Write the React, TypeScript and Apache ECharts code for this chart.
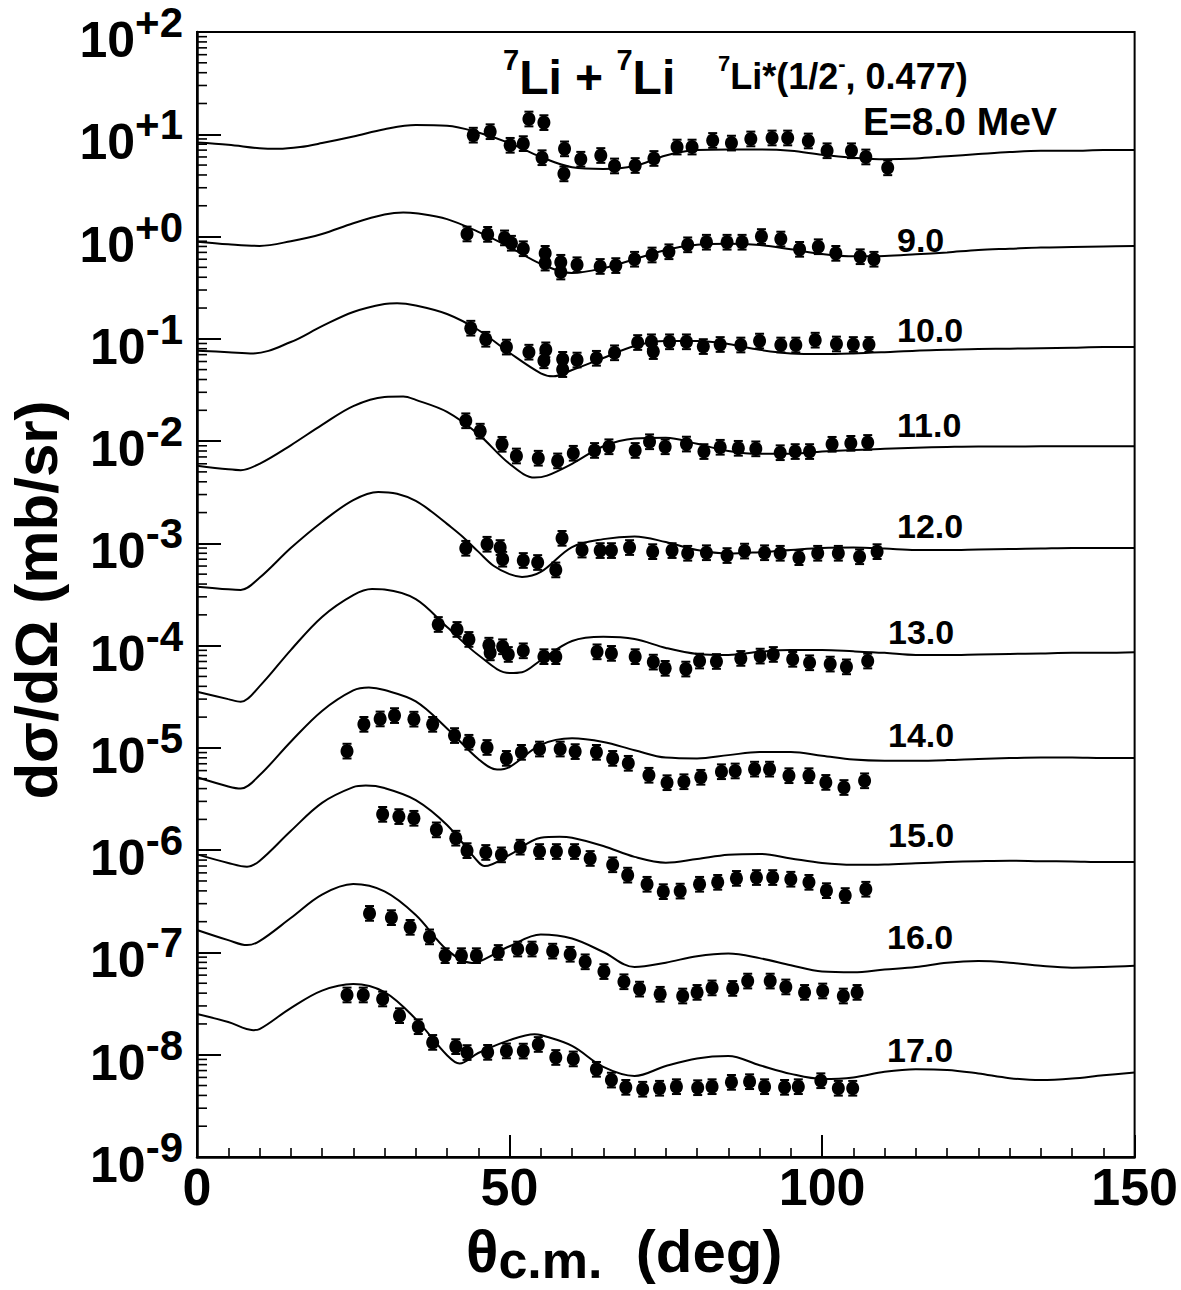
import React, { useEffect, useRef } from "react";
import * as echarts from "echarts";

const FONT = "'Liberation Sans', Arial, Helvetica, sans-serif";

// Beam energies (MeV) and the labels drawn next to each curve
const ENERGIES = [8, 9, 10, 11, 12, 13, 14, 15, 16, 17];
const ENERGY_LABELS = ["E=8.0 MeV", "9.0", "10.0", "11.0", "12.0", "13.0", "14.0", "15.0", "16.0", "17.0"];
// Each angular distribution is multiplied by this factor for display
const SCALE_FACTORS = [1, 1e-1, 1e-2, 1e-3, 1e-4, 1e-5, 1e-6, 1e-7, 1e-8, 1e-9];

// Axis ticks
const X_TICKS = [0, 50, 100, 150];
const Y_MIN = 1e-9;
const Y_MAX = 1e2;
const MINOR_MULTIPLIERS = [2, 3, 4, 5, 6, 7, 8, 9];
const DECADE_EXPONENTS = [-9, -8, -7, -6, -5, -4, -3, -2, -1, 0, 1];

// Relative size of the error bars (multiplicative, log-symmetric)
const ERR_FACTOR = 1.18;

// Theoretical curves: [theta_cm (deg), dsigma/dOmega (mb/sr, unscaled)]
const TH_8 = [[0, 8.3], [5, 7.9], [10, 7.3], [13, 7.2], [16.5, 7.5], [20, 8.2], [25, 9.5], [30, 11.2], [35, 12.3], [40, 12.1], [45, 10.4], [50, 8.2], [55, 6.0], [60, 4.76], [65, 4.58], [70, 4.9], [75, 6.2], [80, 7.0], [85, 7.1], [90, 7.1], [95, 6.9], [100, 6.3], [105, 5.9], [110, 5.7], [115, 5.8], [120, 6.1], [125, 6.4], [130, 6.7], [135, 6.9], [140, 6.9], [145, 7.0], [150, 7.0]];
const TH_9 = [[0, 8.9], [5, 8.4], [10, 8.1], [15, 9.0], [20, 10.6], [25, 13.5], [30, 16.4], [33, 17.2], [35, 16.9], [40, 14.8], [45, 11.1], [50, 7.9], [55, 5.4], [60, 4.4], [65, 4.9], [70, 6.0], [75, 7.4], [80, 8.3], [85, 8.5], [90, 8.25], [95, 7.5], [100, 6.75], [105, 6.4], [110, 6.45], [115, 6.7], [120, 7.0], [125, 7.4], [130, 7.6], [135, 7.8], [140, 7.9], [145, 8.0], [150, 8.1]];
const TH_10 = [[0, 7.65], [5, 7.4], [9, 7.2], [15, 9.3], [20, 13.3], [25, 18.3], [30, 21.9], [32, 22.3], [35, 21.2], [40, 17.5], [45, 12.2], [50, 7.3], [55, 4.6], [57, 4.3], [60, 4.95], [65, 6.5], [70, 8.5], [75, 9.5], [80, 9.5], [85, 8.9], [90, 7.8], [95, 7.2], [100, 7.1], [105, 7.2], [110, 7.4], [115, 7.65], [120, 7.8], [125, 7.95], [130, 8.0], [135, 8.1], [140, 8.2], [145, 8.3], [150, 8.3]];
const TH_11 = [[0, 5.75], [5, 5.3], [7, 5.2], [10, 6.0], [15, 9.1], [20, 14.4], [25, 22.0], [30, 27.0], [33, 27.3], [35, 25.3], [40, 19.3], [45, 11.7], [50, 6.0], [54, 4.4], [56, 4.6], [60, 6.0], [65, 8.9], [70, 10.6], [75, 10.8], [80, 9.4], [85, 8.0], [90, 7.5], [95, 7.5], [100, 7.9], [105, 8.2], [110, 8.4], [115, 8.6], [120, 8.75], [125, 8.85], [130, 8.85], [135, 8.9], [140, 8.9], [145, 8.9], [150, 8.9]];
const TH_12 = [[0, 3.77], [5, 3.55], [7, 3.5], [10, 4.6], [15, 9.0], [20, 16.2], [25, 26.5], [29, 31.8], [32, 30.5], [35, 26.0], [37.5, 20.5], [40, 15.5], [42.5, 11.6], [45, 8.3], [47.5, 6.0], [50, 5.0], [52, 4.7], [55, 5.25], [60, 9.2], [65, 11.0], [70, 11.7], [75, 10.3], [80, 8.6], [85, 7.95], [90, 8.2], [95, 8.6], [100, 9.0], [105, 9.1], [110, 8.9], [115, 8.6], [120, 8.6], [125, 8.7], [130, 8.8], [135, 8.9], [140, 9.0], [145, 9.0], [150, 9.0]];
const TH_13 = [[0, 3.54], [5, 3.0], [7, 2.83], [10, 4.0], [15, 9.05], [20, 19.1], [25, 31.2], [28, 35.8], [30, 35.4], [35, 28.5], [40, 15.2], [45, 8.1], [50, 5.4], [52, 5.5], [55, 7.2], [60, 11.1], [65, 12.2], [70, 11.6], [75, 9.5], [80, 8.3], [85, 8.1], [90, 8.7], [95, 9.05], [100, 9.05], [105, 8.8], [110, 8.5], [115, 8.1], [120, 8.1], [125, 8.2], [130, 8.3], [135, 8.4], [140, 8.5], [145, 8.5], [150, 8.6]];
const TH_14 = [[0, 5.16], [5, 4.2], [7, 4.0], [10, 5.4], [15, 11.5], [20, 23.0], [25, 36.5], [27.5, 39.0], [30, 36.8], [35, 28.5], [40, 15.5], [45, 7.8], [48, 6.15], [50, 6.5], [55, 10.7], [60, 12.4], [65, 11.4], [70, 9.5], [75, 8.05], [80, 7.9], [85, 8.5], [90, 9.1], [95, 9.1], [100, 8.4], [105, 7.7], [110, 7.5], [115, 7.5], [120, 7.6], [125, 7.8], [130, 7.95], [135, 8.05], [140, 8.05], [145, 7.95], [150, 7.95]];
const TH_15 = [[0, 9.1], [5, 7.5], [8, 6.9], [10, 7.85], [15, 15.4], [20, 29.0], [25, 41.3], [27, 42.8], [30, 40.5], [35, 30.9], [40, 17.6], [45, 7.66], [46, 7.0], [50, 9.0], [55, 13.2], [58, 13.5], [60, 13.2], [65, 11.0], [70, 8.6], [75, 7.55], [80, 8.2], [85, 9.0], [90, 9.2], [95, 8.3], [100, 7.5], [105, 7.2], [110, 7.25], [115, 7.45], [120, 7.65], [125, 7.8], [130, 7.9], [135, 7.8], [140, 7.75], [145, 7.65], [150, 7.65]];
const TH_16 = [[0, 16.6], [5, 13.2], [8, 11.8], [10, 12.9], [15, 21.7], [20, 36.8], [25, 46.6], [30, 39.5], [35, 23.2], [40, 10.6], [44, 7.9], [45, 8.05], [50, 11.5], [55, 15.0], [60, 13.7], [65, 10.1], [70, 7.2], [75, 7.95], [80, 9.2], [85, 9.75], [90, 8.8], [95, 7.5], [100, 6.5], [105, 6.4], [110, 6.8], [115, 7.2], [120, 7.95], [125, 8.25], [130, 7.95], [135, 7.4], [140, 7.1], [145, 7.2], [150, 7.4]];
const TH_17 = [[0, 25.0], [5, 20.9], [9, 17.4], [10, 17.8], [15, 28.6], [20, 42.4], [25, 49.2], [30, 41.0], [35, 22.3], [40, 9.9], [42, 8.2], [45, 10.4], [50, 13.9], [54, 15.9], [55, 15.6], [60, 12.2], [65, 7.6], [70, 6.2], [75, 7.75], [80, 9.2], [85, 9.7], [90, 7.9], [95, 6.5], [100, 5.8], [105, 6.0], [110, 6.8], [115, 7.2], [120, 7.1], [125, 6.55], [130, 5.9], [135, 5.65], [140, 5.85], [145, 6.3], [150, 6.7]];

// Measured points: [theta_cm (deg), dsigma/dOmega (mb/sr, unscaled)]
const EXP_8 = [[44.2, 9.8], [46.9, 10.6], [50.1, 7.8], [52.2, 8.1], [53.1, 14.1], [55.5, 13.0], [55.2, 5.9], [58.8, 7.2], [58.7, 4.1], [61.4, 5.7], [64.6, 6.2], [66.8, 4.9], [70.1, 4.95], [73.1, 5.8], [76.8, 7.5], [79.2, 7.5], [82.5, 8.7], [85.5, 8.2], [88.6, 9.0], [92.0, 9.2], [94.5, 9.2], [97.8, 8.6], [100.8, 6.9], [104.7, 6.9], [107.0, 6.0], [110.5, 4.7]];
const EXP_9 = [[43.2, 10.6], [46.5, 10.5], [49.2, 9.7], [50.3, 8.6], [52.2, 7.6], [55.7, 6.85], [55.7, 5.5], [58.2, 5.6], [58.2, 4.5], [60.8, 5.3], [64.5, 5.1], [67.0, 5.2], [70.0, 6.0], [72.8, 6.6], [75.5, 7.1], [78.5, 8.3], [81.5, 8.8], [84.8, 8.8], [87.2, 8.8], [90.3, 10.0], [93.4, 9.45], [96.4, 7.5], [99.4, 7.95], [102.2, 6.85], [106.1, 6.35], [108.3, 6.0]];
const EXP_10 = [[43.8, 12.7], [46.2, 9.9], [49.5, 8.3], [53.1, 7.4], [55.8, 7.8], [55.5, 6.1], [58.5, 6.3], [58.5, 5.0], [60.8, 6.2], [63.9, 6.45], [66.8, 7.3], [70.5, 9.2], [72.7, 9.35], [73.0, 7.5], [75.6, 9.35], [78.3, 9.35], [81.0, 8.4], [83.7, 8.8], [87.0, 8.7], [90.0, 9.5], [93.4, 8.7], [95.8, 8.7], [98.9, 9.7], [102.3, 8.9], [105.0, 8.8], [107.5, 8.8]];
const EXP_11 = [[43.0, 15.8], [45.3, 12.5], [48.8, 9.3], [51.1, 7.15], [54.6, 6.8], [57.7, 6.4], [60.2, 7.6], [63.6, 8.1], [65.9, 8.8], [70.1, 8.1], [72.4, 9.85], [74.9, 8.8], [78.3, 9.35], [81.1, 7.9], [83.7, 8.7], [86.6, 8.5], [89.4, 8.4], [93.3, 7.7], [95.7, 7.9], [98.0, 7.9], [101.6, 9.3], [104.6, 9.5], [107.3, 9.7]];
const EXP_12 = [[43.0, 8.95], [46.4, 9.8], [48.5, 9.1], [48.9, 7.0], [52.2, 6.8], [54.5, 6.5], [57.4, 5.5], [58.4, 11.2], [61.6, 8.6], [64.5, 8.5], [66.3, 8.5], [69.2, 9.1], [72.9, 8.3], [76.0, 8.5], [78.5, 8.0], [81.5, 8.1], [84.8, 7.6], [87.6, 8.4], [90.8, 8.1], [93.3, 8.0], [96.3, 7.25], [99.3, 8.0], [102.6, 8.0], [106.0, 7.4], [108.8, 8.3]];
const EXP_13 = [[38.6, 16.1], [41.6, 14.4], [43.5, 11.5], [46.7, 10.1], [46.9, 8.5], [48.9, 9.75], [49.8, 8.2], [52.2, 8.9], [55.5, 7.8], [57.4, 7.8], [64.0, 8.7], [66.3, 8.4], [70.1, 7.8], [73.0, 6.9], [74.9, 6.0], [78.2, 5.9], [80.4, 7.07], [83.1, 7.0], [87.0, 7.5], [90.1, 7.9], [92.2, 8.2], [95.3, 7.35], [98.0, 6.8], [101.3, 6.6], [103.9, 6.2], [107.3, 7.07]];
const EXP_14 = [[24.0, 9.3], [26.7, 17.0], [29.3, 19.2], [31.6, 20.7], [34.7, 19.1], [37.7, 17.0], [41.2, 13.2], [43.5, 11.35], [46.4, 10.1], [49.5, 7.9], [51.9, 9.05], [54.8, 9.75], [58.1, 9.75], [60.5, 9.2], [63.9, 9.05], [66.5, 7.9], [69.0, 7.07], [72.3, 5.4], [75.2, 4.57], [77.9, 4.67], [80.6, 5.16], [83.9, 5.85], [86.1, 5.95], [89.2, 6.2], [91.6, 6.2], [94.7, 5.35], [97.9, 5.35], [100.6, 4.6], [103.5, 4.1], [106.8, 4.77]];
const EXP_15 = [[29.7, 22.4], [32.3, 21.3], [34.7, 20.5], [38.3, 15.8], [41.4, 13.1], [43.2, 9.9], [46.2, 9.5], [48.7, 9.0], [51.7, 10.7], [54.8, 9.7], [57.5, 9.7], [60.4, 9.7], [62.9, 8.3], [66.5, 7.2], [68.9, 5.7], [72.0, 4.64], [74.6, 3.93], [77.3, 3.98], [80.4, 4.64], [83.3, 4.85], [86.3, 5.3], [89.5, 5.4], [92.1, 5.4], [95.0, 5.2], [97.9, 4.85], [100.7, 4.02], [103.7, 3.6], [107.0, 4.15]];
const EXP_16 = [[27.6, 24.1], [31.1, 21.9], [34.1, 17.6], [37.2, 14.2], [39.7, 9.3], [42.3, 9.3], [44.7, 9.3], [48.2, 10.0], [51.3, 10.8], [53.6, 10.8], [56.9, 10.3], [59.7, 9.6], [62.1, 8.1], [65.1, 6.5], [68.3, 5.17], [70.8, 4.38], [74.1, 3.9], [77.7, 3.75], [80.0, 4.07], [82.4, 4.5], [85.7, 4.45], [88.1, 5.25], [91.7, 5.25], [94.2, 4.6], [97.2, 4.07], [100.1, 4.2], [103.4, 3.75], [105.6, 4.07]];
const EXP_17 = [[24.0, 38.4], [26.6, 38.4], [29.7, 35.1], [32.4, 24.1], [35.4, 18.8], [37.7, 13.2], [41.4, 12.0], [43.2, 10.5], [46.5, 10.55], [49.5, 10.9], [52.2, 10.85], [54.6, 12.6], [57.4, 9.4], [60.2, 9.1], [63.9, 7.2], [66.3, 5.65], [68.6, 4.8], [71.3, 4.6], [74.0, 4.7], [76.7, 4.87], [80.1, 4.76], [82.4, 4.87], [85.5, 5.37], [88.4, 5.45], [90.8, 4.87], [94.0, 4.8], [96.2, 4.87], [99.8, 5.57], [102.6, 4.7], [104.9, 4.7]];

const THEORY = [TH_8, TH_9, TH_10, TH_11, TH_12, TH_13, TH_14, TH_15, TH_16, TH_17];
const EXPERIMENT = [EXP_8, EXP_9, EXP_10, EXP_11, EXP_12, EXP_13, EXP_14, EXP_15, EXP_16, EXP_17];

// ---------- layout (pixels) ----------
const W = 1181;
const H = 1290;
const GRID = { left: 197, top: 32, right: 44, bottom: 133 };
const ENERGY_LABEL_POS = [
  [863, 121], [897, 240], [897, 330], [897, 425], [897, 526],
  [888, 632], [888, 735], [888, 835], [887, 937], [887, 1050],
];
const ENERGY_LABEL_SIZE = [39, 34, 34, 34, 34, 34, 34, 34, 34, 34];

function buildOption() {
  const black = "#000";
  const lineSeries = THEORY.map((curve, i) => ({
    name: `${ENERGIES[i]} MeV theory`,
    type: "line",
    data: curve.map(([t, s]) => [t, s * SCALE_FACTORS[i]]),
    smooth: 0.35,
    showSymbol: false,
    symbol: "none",
    lineStyle: { color: black, width: 2 },
    z: 3,
  }));

  const points: number[][] = [];
  EXPERIMENT.forEach((set, i) => {
    set.forEach(([t, s]) => points.push([t, s * SCALE_FACTORS[i]]));
  });

  const minorTicks: number[][] = [];
  DECADE_EXPONENTS.forEach((e) => {
    MINOR_MULTIPLIERS.forEach((k) => minorTicks.push([0, k * Math.pow(10, e)]));
  });

  const errorBars = {
    name: "error bars",
    type: "custom",
    data: points,
    encode: { x: 0, y: 1 },
    z: 4,
    silent: true,
    renderItem: (_p: any, api: any) => {
      const x = api.value(0);
      const y = api.value(1);
      const c = api.coord([x, y]);
      const top = api.coord([x, y * ERR_FACTOR]);
      const bot = api.coord([x, y / ERR_FACTOR]);
      const st = { stroke: black, lineWidth: 2 };
      return {
        type: "group",
        children: [
          { type: "line", shape: { x1: c[0], y1: top[1], x2: c[0], y2: bot[1] }, style: st },
          { type: "line", shape: { x1: c[0] - 4.5, y1: top[1], x2: c[0] + 4.5, y2: top[1] }, style: st },
          { type: "line", shape: { x1: c[0] - 4.5, y1: bot[1], x2: c[0] + 4.5, y2: bot[1] }, style: st },
        ],
      };
    },
  };

  const minorTickSeries = {
    name: "minor ticks",
    type: "custom",
    data: minorTicks,
    encode: { x: 0, y: 1 },
    silent: true,
    clip: false,
    z: 5,
    renderItem: (_p: any, api: any) => {
      const c = api.coord([api.value(0), api.value(1)]);
      return {
        type: "line",
        shape: { x1: c[0], y1: c[1], x2: c[0] + 10, y2: c[1] },
        style: { stroke: black, lineWidth: 1.6 },
      };
    },
  };

  const scatter = {
    name: "data",
    type: "scatter",
    data: points,
    symbol: "circle",
    symbolSize: [13, 14],
    itemStyle: { color: black, opacity: 1 },
    z: 6,
  };

  const labelTexts = ENERGY_LABELS.map((txt, i) => ({
    type: "text",
    x: ENERGY_LABEL_POS[i][0],
    y: ENERGY_LABEL_POS[i][1],
    style: {
      text: txt,
      fill: black,
      fontSize: ENERGY_LABEL_SIZE[i],
      fontWeight: "bold",
      fontFamily: FONT,
      align: "left",
      verticalAlign: "middle",
    },
  }));

  return {
    animation: false,
    backgroundColor: "#fff",
    grid: {
      left: GRID.left,
      top: GRID.top,
      right: GRID.right,
      bottom: GRID.bottom,
      show: true,
      borderColor: black,
      borderWidth: 2,
      backgroundColor: "transparent",
      containLabel: false,
    },
    xAxis: {
      type: "value",
      min: X_TICKS[0],
      max: X_TICKS[X_TICKS.length - 1],
      interval: X_TICKS[1] - X_TICKS[0],
      axisLine: { show: true, lineStyle: { color: black, width: 2.5 } },
      axisTick: { show: true, inside: true, length: 22, lineStyle: { color: black, width: 2 } },
      minorTick: { show: true, splitNumber: 10, length: 9, lineStyle: { color: black, width: 1.6 } },
      splitLine: { show: false },
      minorSplitLine: { show: false },
      axisLabel: {
        margin: 4,
        color: black,
        fontSize: 52,
        fontWeight: "bold",
        fontFamily: FONT,
      },
    },
    yAxis: {
      type: "log",
      logBase: 10,
      min: Y_MIN,
      max: Y_MAX,
      interval: 1,
      axisLine: { show: true, lineStyle: { color: black, width: 2.5 } },
      axisTick: { show: true, inside: true, length: 24, lineStyle: { color: black, width: 2 } },
      splitLine: { show: false },
      axisLabel: {
        margin: 14,
        formatter: (v: number) => {
          const e = Math.round(Math.log10(v));
          return `{b|10}{s|${e >= 0 ? "+" : "-"}${Math.abs(e)}}`;
        },
        rich: {
          b: {
            fontSize: 50,
            fontWeight: "bold",
            fontFamily: FONT,
            color: black,
            padding: [16, 0, 0, 0],
          },
          s: {
            fontSize: 42,
            fontWeight: "bold",
            fontFamily: FONT,
            color: black,
            padding: [0, 0, 19, 0],
          },
        },
      },
    },
    graphic: [
      {
        type: "text",
        x: 503,
        y: 72,
        style: {
          text: "{s|7}{b|Li + }{s|7}{b|Li}",
          fill: black,
          align: "left",
          verticalAlign: "middle",
          rich: {
            b: { fontSize: 48, fontWeight: "bold", fontFamily: FONT, fill: black, padding: [10, 0, 0, 0] },
            s: { fontSize: 29, fontWeight: "bold", fontFamily: FONT, fill: black, padding: [0, 0, 24, 0] },
          },
        },
      },
      {
        type: "text",
        x: 718,
        y: 72,
        style: {
          text: "{s|7}{b|Li*(1/2}{s|-}{b|, 0.477)}",
          fill: black,
          align: "left",
          verticalAlign: "middle",
          rich: {
            b: { fontSize: 36, fontWeight: "bold", fontFamily: FONT, fill: black, padding: [8, 0, 0, 0] },
            s: { fontSize: 22, fontWeight: "bold", fontFamily: FONT, fill: black, padding: [0, 0, 18, 0] },
          },
        },
      },
      ...labelTexts,
      {
        type: "text",
        x: 36,
        y: 600,
        rotation: Math.PI / 2,
        style: {
          text: "dσ/dΩ (mb/sr)",
          fill: black,
          fontSize: 60,
          fontWeight: "bold",
          fontFamily: FONT,
          align: "center",
          verticalAlign: "middle",
        },
      },
      {
        type: "text",
        x: 466,
        y: 1253.5,
        style: {
          text: "{t|θ}{s|c.m.}{t|  (deg)}",
          fill: black,
          align: "left",
          verticalAlign: "middle",
          rich: {
            t: { fontSize: 60, fontWeight: "bold", fontFamily: FONT, fill: black, padding: [0, 0, 5, 0] },
            s: { fontSize: 52, fontWeight: "bold", fontFamily: FONT, fill: black, padding: [13, 0, 0, 0] },
          },
        },
      },
    ],
    series: [...lineSeries, errorBars, scatter, minorTickSeries],
  };
}

export default function App() {
  const ref = useRef<HTMLDivElement>(null);
  useEffect(() => {
    if (!ref.current) return;
    const chart = echarts.init(ref.current, null, { renderer: "svg" });
    chart.setOption(buildOption() as any);
    return () => chart.dispose();
  }, []);
  return (
    <div
      ref={ref}
      style={{ position: "absolute", left: 0, top: 0, width: W, height: H, background: "#fff" }}
    />
  );
}
